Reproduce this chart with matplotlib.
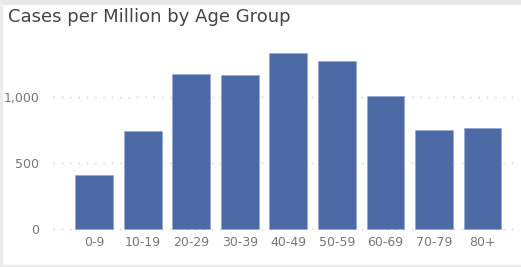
import matplotlib.pyplot as plt
from matplotlib.patches import Rectangle

# datos
grupos = ['0-9', '10-19', '20-29', '30-39', '40-49', '50-59', '60-69', '70-79', '80+']
casos = [411, 747, 1177, 1167, 1333, 1273, 1012, 750, 765]
ticks_y = [0, 500, 1000]
etiquetas_y = ['0', '500', '1,000']

fig = plt.figure(figsize=(5.21, 2.67), dpi=100)
fig.patch.set_facecolor('white')

# marco gris del visual
fig.patches.append(Rectangle((0, 0.985), 1, 0.015, transform=fig.transFigure,
                             color='#e6e6e6', zorder=0))
fig.patches.append(Rectangle((0, 0), 0.004, 1, transform=fig.transFigure,
                             color='#ececec', zorder=0))
fig.patches.append(Rectangle((0, 0), 1, 0.008, transform=fig.transFigure,
                             color='#ececec', zorder=0))

ax = fig.add_axes([53/521, 34.7/267, 463/521, 187/267])
x = range(len(grupos))
ax.bar(x, casos, width=0.78, color='#4c6aa6', edgecolor='#8fa3cc', linewidth=0.4, zorder=3)

ax.set_xlim(-0.85, 8.69)
ax.set_ylim(-23, 1394)
ax.set_yticks(ticks_y)
ax.set_yticklabels(etiquetas_y)
ax.set_xticks(list(x))
ax.set_xticklabels(grupos)
ax.tick_params(axis='both', length=0, labelsize=9, labelcolor='#777777')
ax.tick_params(axis='x', pad=3)
ax.tick_params(axis='y', pad=10)
ax.grid(axis='y', linestyle=(0, (1, 5)), color='#cfcfcf', linewidth=1, zorder=0)
for s in ax.spines.values():
    s.set_visible(False)

fig.text(8/521, 1 - 17/267, 'Cases per Million by Age Group', fontsize=13,
         color='#454545', va='center', ha='left')

plt.savefig('out.png', dpi=100)
